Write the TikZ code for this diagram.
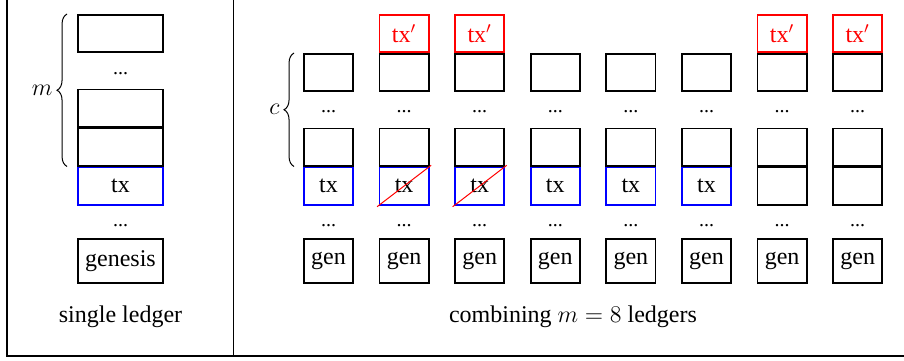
\documentclass[tikz,border=0pt]{standalone}
\usepackage{fontspec}
\setmainfont{Liberation Serif}
\usetikzlibrary{calc, decorations.pathreplacing, positioning}
\tikzset{
    blocknode/.style = {draw, rectangle, line width=0.85pt, inner sep=0em,
      minimum width=#1, minimum height=18.65pt, font=\fontsize{12}{14}\selectfont},
    blocknode/.default = 24.6pt,
    txnode/.style = {blocknode=#1, draw=blue},
    txnode/.default = 24.6pt,
    forknode/.style = {blocknode, draw=red, text=red},
    gennode/.style = {blocknode=#1, minimum height=22.2pt},
    gennode/.default = 24.6pt,
    dotsnode/.style = {draw=none, inner sep=0em, font=\fontsize{10}{12}\selectfont},
    textnode/.style = {draw=none, inner sep=0em, font=\fontsize{12}{14}\selectfont},
    bracenode/.style = {decorate, decoration={brace, amplitude=5pt}, line width=0.5pt},
    strike/.style = {red, line width=0.5pt, shorten <=-1pt, shorten >=-1pt},
    frameline/.style = {line width=0.65pt}
}

\begin{document}
\begin{tikzpicture}[x=0.5pt, y=-0.5pt]
    \useasboundingbox (0,0) rectangle (904,360);

    \draw [frameline] (7,0) -- (7,356) -- (904,356);
    \draw [frameline] (233.7,0) -- (233.7,356);

    % single ledger
    \node [blocknode=42.6pt] (lmid) at (120.5,147) {};
    \node [txnode=42.6pt, below=0pt of lmid] (ltx) {tx};
    \node [blocknode=42.6pt, above=0pt of lmid] (lhigh) {};
    \node [blocknode=42.6pt] (ltop) at (120.5,33.5) {};
    \node [dotsnode] (ldotsa) at (120.5,74) {...};
    \node [dotsnode] (ldotsb) at (120.5,226) {...};
    \node [gennode=42.6pt] (lgen) at (120.5,261) {genesis};
    \node [textnode] (lcap) at (120.5,317) {single ledger};
    \draw [bracenode] ([xshift=-5pt]lmid.south west) -- ([xshift=-5pt]ltop.north west)
      node [midway, left=7pt, textnode] {$m$};

    % combined ledgers
    \foreach \i/\col/\lab in {1/blue/tx, 2/blue/tx, 3/blue/tx, 4/blue/tx, 5/blue/tx, 6/blue/tx, 7/black/{}, 8/black/{}} {
      \pgfmathsetmacro\x{328.5+75.6*(\i-1)}
      \node [blocknode] (mid\i) at (\x,147) {};
      \node [blocknode, draw=\col, below=0pt of mid\i] (tx\i) {\lab};
      \node [blocknode] (top\i) at (\x,72.5) {};
      \node [dotsnode] (dotsa\i) at (\x,112) {...};
      \node [dotsnode] (dotsb\i) at (\x,226) {...};
      \node [gennode] (gen\i) at (\x,261) {gen};
    }
    \foreach \i in {2,3,7,8}
      \node [forknode, above=0pt of top\i] (fork\i) {tx$'$};
    \foreach \i in {2,3}
      \draw [strike] (tx\i.south west) -- (tx\i.north east);

    \draw [bracenode] ([xshift=-4.5pt]mid1.south west) -- ([xshift=-4.5pt]top1.north west)
      node [midway, left=7pt, textnode] {$c$};
    \node [textnode] (rcap) at (573,317) {combining $m=8$ ledgers};
\end{tikzpicture}
\end{document}
